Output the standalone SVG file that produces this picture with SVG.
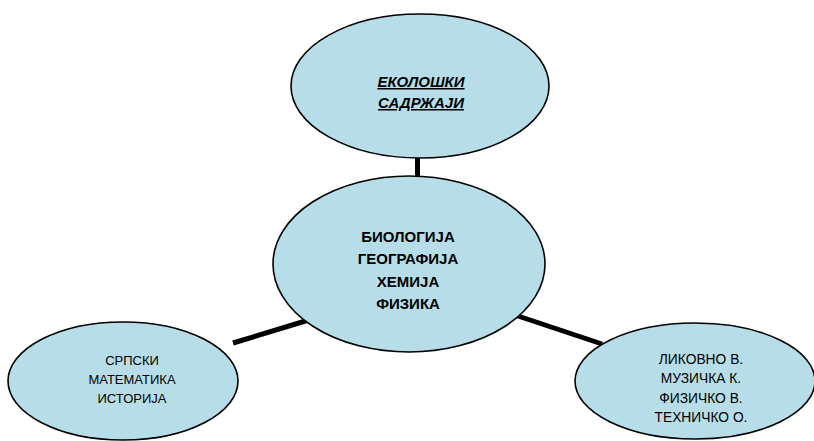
<svg xmlns="http://www.w3.org/2000/svg" width="814" height="441" viewBox="0 0 814 441">
<style>
.node ellipse{fill:#b7dee8;stroke:#000;stroke-width:1.6}
.conn line{stroke:#000;stroke-width:5}
text{font-family:"Liberation Sans",Arial,sans-serif;fill:#000;text-anchor:middle}
.b{font-weight:bold;font-size:15px}
.r{font-size:13px}
.r2{font-size:13.8px}
.t{font-weight:bold;font-style:italic;font-size:15px;text-decoration:underline}
</style>
<rect width="814" height="441" fill="#fff"/>
<g class="conn" id="connectors">
<line x1="417.5" y1="150" x2="417.5" y2="185"/>
<line x1="233" y1="343" x2="312" y2="319"/>
<line x1="512" y1="314" x2="602" y2="344"/>
</g>
<g class="node" id="node-top">
<ellipse cx="420" cy="86" rx="129" ry="72"/>
<text class="t" x="421" y="87">ЕКОЛОШКИ</text>
<text class="t" x="421" y="108">САДРЖАЈИ</text>
</g>
<g class="node" id="node-center">
<ellipse cx="409" cy="264" rx="136" ry="88"/>
<text class="b" x="408" y="242">БИОЛОГИЈА</text>
<text class="b" x="408" y="264">ГЕОГРАФИЈА</text>
<text class="b" x="408" y="287">ХЕМИЈА</text>
<text class="b" x="408" y="309">ФИЗИКА</text>
</g>
<g class="node" id="node-left">
<ellipse cx="123" cy="381" rx="115" ry="59"/>
<text class="r" x="132" y="365">СРПСКИ</text>
<text class="r" x="132" y="384">МАТЕМАТИКА</text>
<text class="r" x="132" y="403">ИСТОРИЈА</text>
</g>
<g class="node" id="node-right">
<ellipse cx="695" cy="381" rx="120" ry="58"/>
<text class="r2" x="701" y="364">ЛИКОВНО В.</text>
<text class="r2" x="701" y="383">МУЗИЧКА К.</text>
<text class="r2" x="701" y="403">ФИЗИЧКО В.</text>
<text class="r2" x="701" y="422">ТЕХНИЧКО О.</text>
</g>
</svg>
